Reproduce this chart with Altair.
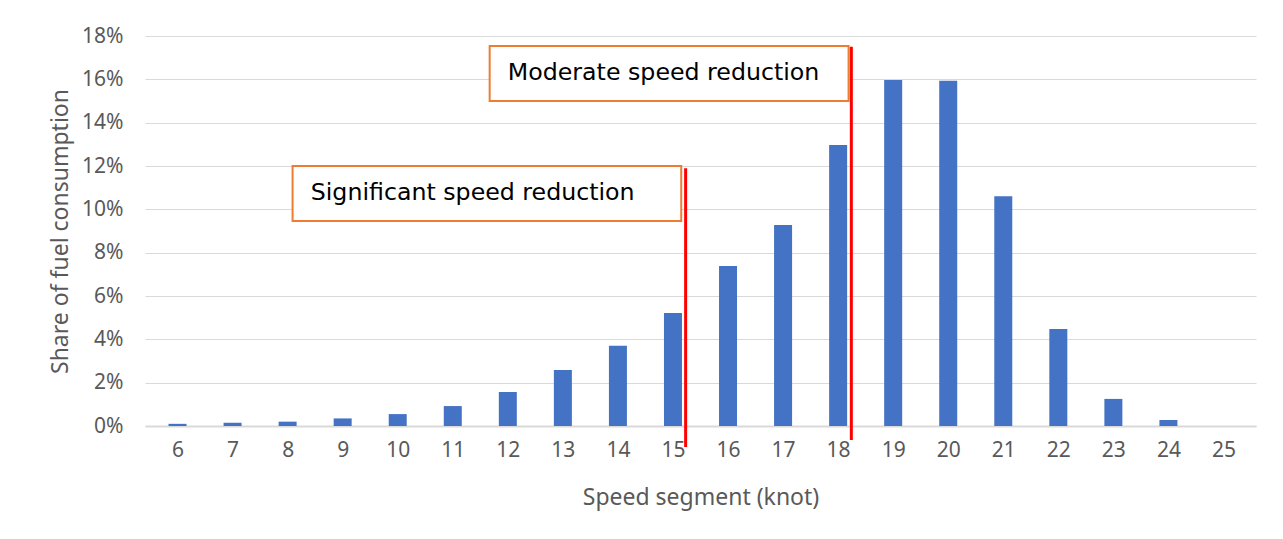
import altair as alt
import pandas as pd

speeds = list(range(6, 26))
shares = [0.1, 0.15, 0.2, 0.35, 0.55, 0.92, 1.57, 2.58, 3.7, 5.22,
          7.39, 9.28, 12.97, 15.97, 15.93, 10.6, 4.48, 1.25, 0.28, 0.0]

line_x = [15.23, 18.24]
line_top = [11.9, 17.5]
line_bottom = [-0.97, -0.65]

box_labels = ["Significant speed reduction", "Moderate speed reduction"]
box_x = [8.09, 11.67]
box_x2 = [15.15, 18.19]
box_y = [12.0, 17.54]
box_y2 = [9.46, 15.0]
text_x = [8.42, 12.0]
text_y = [10.75, 16.29]

bars_df = pd.DataFrame({"speed": speeds, "share": shares})
lines_df = pd.DataFrame({"x": line_x, "top": line_top, "bottom": line_bottom})
boxes_df = pd.DataFrame({"label": box_labels, "x": box_x, "x2": box_x2,
                         "y": box_y, "y2": box_y2, "tx": text_x, "ty": text_y})

xscale = alt.Scale(domain=[5.5, 25.5], nice=False, zero=False)
yscale = alt.Scale(domain=[0, 18], nice=False)

bars = alt.Chart(bars_df).mark_bar(color="#4472C4", size=18).encode(
    x=alt.X("speed:Q", scale=xscale,
            axis=alt.Axis(title="Speed segment (knot)", values=speeds, format="d",
                          grid=False, ticks=False, domain=True, domainColor="#D9D9D9",
                          domainWidth=2, labelFont="Noto Sans", labelFontSize=21,
                          labelColor="#595959", labelPadding=13,
                          titleFont="Noto Sans", titleFontSize=23, titleFontWeight="normal",
                          titleColor="#595959", titleBaseline="middle", titleY=71)),
    y=alt.Y("share:Q", scale=yscale,
            axis=alt.Axis(title="Share of fuel consumption", values=list(range(0, 19, 2)),
                          labelExpr="datum.value + '%'", grid=True, gridColor="#D9D9D9",
                          gridWidth=1, ticks=False, domain=False,
                          labelFont="Noto Sans", labelFontSize=21, labelColor="#595959",
                          labelPadding=22,
                          titleFont="Noto Sans", titleFontSize=23, titleFontWeight="normal",
                          titleColor="#595959", titleBaseline="middle", titleX=-85, titleY=195,
                          titleAngle=-90)),
)

boxes = alt.Chart(boxes_df).mark_rect(fill="white", stroke="#ED7D31", strokeWidth=2).encode(
    x=alt.X("x:Q", scale=xscale), x2="x2:Q",
    y=alt.Y("y:Q", scale=yscale), y2="y2:Q",
)

texts = alt.Chart(boxes_df).mark_text(align="left", baseline="middle", font="DejaVu Sans",
                                      fontSize=23.7, color="#000000").encode(
    x=alt.X("tx:Q", scale=xscale), y=alt.Y("ty:Q", scale=yscale), text="label:N"
)

lines = alt.Chart(lines_df).mark_rule(color="#FF0000", strokeWidth=3, clip=False).encode(
    x=alt.X("x:Q", scale=xscale), y=alt.Y("top:Q", scale=yscale), y2="bottom:Q"
)

chart = alt.layer(bars, boxes, texts, lines).properties(
    width=1111, height=390,
    autosize=alt.AutoSizeParams(type="none"),
    padding={"left": 137, "top": 28, "right": 10, "bottom": 95},
).configure(background="white").configure_view(stroke=None)

chart.save("out.html", embed_options={"renderer": "svg", "actions": False})
